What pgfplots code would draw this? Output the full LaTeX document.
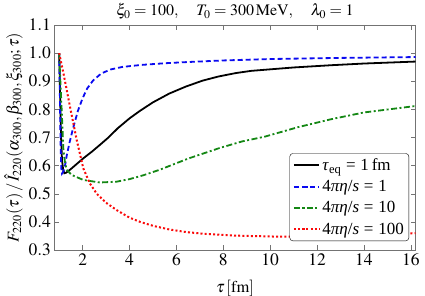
\documentclass[border=0pt]{standalone}
\usepackage{mathptmx}
\usepackage{fontspec}
\setmainfont{Liberation Serif}
\usepackage{pgfplots}
\pgfplotsset{compat=1.18}
\definecolor{dgreen}{RGB}{20,135,20}
\definecolor{mblue}{RGB}{10,10,240}
\definecolor{mred}{RGB}{250,10,10}
\newcommand{\eqs}{\hspace{0.28em}=\hspace{0.28em}}
\begin{document}
\begin{tikzpicture}
\begin{axis}[name=ax,
  scale only axis, width=361pt, height=225pt,
  xmin=0.8, xmax=16.2, ymin=0.3, ymax=1.1,
  xtick={2,4,...,16}, ytick={0.3,0.4,...,1.1},
  yticklabel style={/pgf/number format/.cd,fixed,fixed zerofill,precision=1},
  tick align=inside, tick pos=both, major tick length=5pt,
  axis line style={gray!90!black}, every tick/.style={gray!90!black},
  tick label style={font=\fontsize{17.5}{19}\selectfont},
  label style={font=\fontsize{16.5}{18}\selectfont},
  title style={font=\fontsize{16}{18}\selectfont, yshift=-4pt},
  title={$\xi_0=100,\quad T_0=300\,\mathrm{MeV},\quad \lambda_0=1$},
  xlabel={$\tau\,[\mathrm{fm}]$},
  ylabel={$F_{220}(\tau)\,/\,\hat{I}_{220}(\alpha_{300},\beta_{300},\xi_{300};\tau)$},
  xlabel style={yshift=-7pt},
  ylabel style={yshift=-1pt},
  legend cell align=left,
  legend style={at={(rel axis cs:0.982,0.04)}, anchor=south east, rounded corners=3pt,
    draw=black, font=\fontsize{17}{19}\selectfont, row sep=4.5pt, inner xsep=3pt, inner ysep=3pt},
  legend image code/.code={\draw[mark repeat=2,mark phase=2,#1] plot coordinates {(0cm,0cm) (0.45cm,0cm) (0.9cm,0cm)};},
]
\addplot[black, line width=1.8pt] coordinates {
(1.0,1.0)(1.04,0.85)(1.08,0.70)(1.12,0.62)(1.17,0.585)(1.22,0.573)(1.3,0.575)(1.5,0.588)(1.75,0.606)(2.03,0.626)(2.4,0.650)(2.74,0.674)(3.1,0.700)(3.5,0.733)(4.0,0.768)(4.45,0.795)(5.0,0.825)(5.69,0.856)(6.4,0.881)(7.11,0.902)(7.8,0.917)(8.53,0.929)(9.2,0.937)(9.95,0.942)(11.0,0.949)(12.6,0.957)(14.0,0.963)(16.2,0.970)};
\addlegendentry{\textit{τ}\textsubscript{eq}\eqs 1\,fm}
\addplot[mblue, line width=1.8pt, dash pattern=on 5pt off 3pt] coordinates {
(1.0,1.0)(1.03,0.85)(1.06,0.68)(1.09,0.59)(1.12,0.572)(1.18,0.58)(1.25,0.60)(1.32,0.635)(1.45,0.685)(1.6,0.735)(1.8,0.795)(2.0,0.84)(2.2,0.875)(2.45,0.903)(2.8,0.928)(3.2,0.942)(3.7,0.951)(4.5,0.958)(5.5,0.964)(6.4,0.968)(8.0,0.974)(10.0,0.979)(13.0,0.983)(16.2,0.986)};
\addlegendentry{4\textit{πη}/\textit{s}\eqs 1}
\addplot[dgreen, line width=1.8pt, dash pattern=on 6pt off 2.5pt on 2pt off 2.5pt] coordinates {
(1.0,1.0)(1.05,0.90)(1.1,0.81)(1.18,0.656)(1.25,0.61)(1.32,0.585)(1.53,0.567)(2.03,0.549)(2.74,0.540)(3.45,0.543)(4.0,0.552)(4.6,0.566)(5.28,0.585)(6.5,0.625)(7.82,0.662)(8.8,0.686)(9.77,0.703)(11.2,0.737)(12.6,0.765)(14.0,0.789)(16.2,0.812)};
\addlegendentry{4\textit{πη}/\textit{s}\eqs 10}
\addplot[mred, line width=2pt, dash pattern=on 2pt off 2.2pt] coordinates {
(1.0,1.0)(1.18,0.929)(1.46,0.81)(1.75,0.69)(2.03,0.590)(2.3,0.538)(2.6,0.500)(3.0,0.468)(3.45,0.442)(4.0,0.415)(4.45,0.400)(5.0,0.386)(5.7,0.373)(6.4,0.364)(7.12,0.358)(8.54,0.351)(10.1,0.348)(11.5,0.348)(13.0,0.351)(14.5,0.355)(16.2,0.360)};
\addlegendentry{4\textit{πη}/\textit{s}\eqs 100}
\end{axis}
\pgfresetboundingbox
\path ([xshift=-54.5pt,yshift=-45pt]ax.south west) rectangle ([xshift=9.5pt,yshift=25pt]ax.north east);
\end{tikzpicture}
\end{document}
